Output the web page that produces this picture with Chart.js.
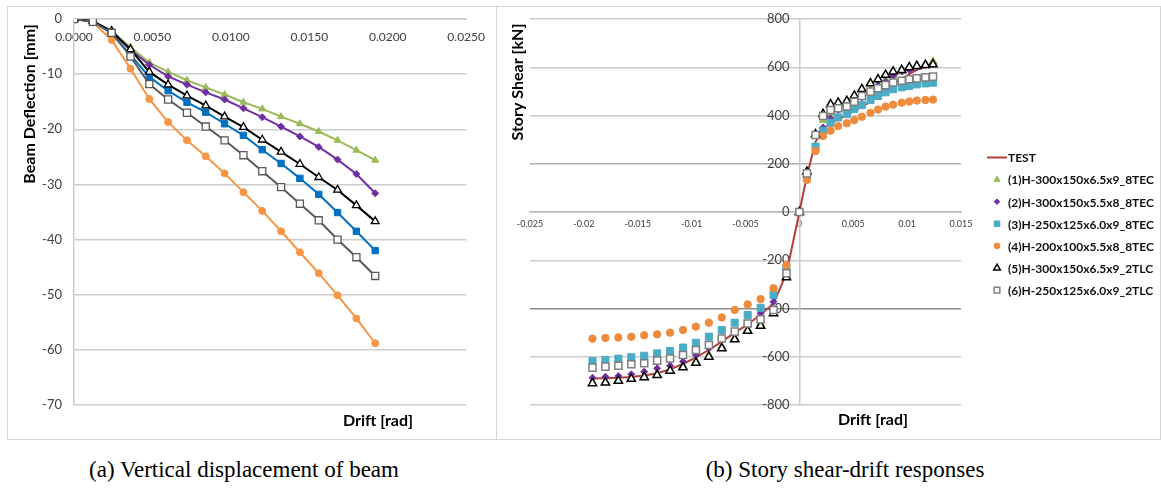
<!DOCTYPE html>
<html>
<head>
<meta charset="utf-8">
<script src="https://cdn.jsdelivr.net/npm/chart.js@4.4.0/dist/chart.umd.min.js"></script>
<style>
  body { margin: 0; background: #fff; width: 1161px; height: 489px; position: relative; overflow: hidden; }
  .panel { position: absolute; top: 6px; height: 432px; border: 1px solid #d4d4d4; }
  #panelA { left: 7px; width: 488px; }
  #panelB { left: 496px; width: 663px; }
  .panel canvas { display: block; }
  .caption { position: absolute; top: 457px; font-family: "Liberation Serif", serif; font-size: 23px; color: #000; white-space: nowrap; transform: translateX(-50%); }
</style>
</head>
<body>
<div class="panel" id="panelA"><canvas id="chartA" width="488" height="432"></canvas></div>
<div class="panel" id="panelB"><canvas id="chartB" width="663" height="432"></canvas></div>
<div class="caption" style="left:244px">(a) Vertical displacement of beam</div>
<div class="caption" style="left:845px">(b) Story shear-drift responses</div>

<script>
// (a) beam deflection vs drift
const driftA = [0, 0.0012, 0.0024, 0.0036, 0.0048, 0.0060, 0.0072, 0.0084, 0.0096,
                0.0108, 0.0120, 0.0132, 0.0144, 0.0156, 0.0168, 0.0180, 0.0192];
const defl1 = [0, -0.4, -2.3, -5.1, -7.9, -9.6, -11.1, -12.4, -13.7, -15.1, -16.3, -17.7, -19.0, -20.4, -22.0, -23.8, -25.6];
const defl2 = [0, -0.4, -2.3, -5.6, -8.3, -10.4, -11.9, -13.3, -14.6, -16.2, -17.8, -19.5, -21.3, -23.2, -25.5, -28.1, -31.6];
const defl3 = [0, -0.5, -2.6, -6.5, -10.5, -13.0, -15.1, -16.9, -19.0, -21.1, -23.7, -26.2, -28.9, -31.8, -35.1, -38.5, -42.0];
const defl4 = [0, -0.6, -3.8, -9.0, -14.5, -18.7, -22.0, -24.9, -28.0, -31.4, -34.8, -38.5, -42.3, -46.1, -50.1, -54.3, -58.8];
const defl5 = [0, -0.4, -2.2, -5.5, -9.6, -11.9, -13.9, -15.7, -17.7, -19.6, -21.9, -24.1, -26.3, -28.7, -31.0, -33.8, -36.7];
const defl6 = [0, -0.5, -2.5, -6.8, -11.8, -14.6, -17.0, -19.5, -22.0, -24.7, -27.6, -30.5, -33.5, -36.5, -40.0, -43.2, -46.6];

// (b) story shear vs drift
const driftB = [-0.0192, -0.0180, -0.0168, -0.0156, -0.0144, -0.0132, -0.0120, -0.0108,
                -0.0096, -0.0084, -0.0072, -0.0060, -0.0048, -0.0036, -0.0024, -0.0012, 0,
                0.0007, 0.0015, 0.0022, 0.0029, 0.0036, 0.0044, 0.0051, 0.0058, 0.0066,
                0.0073, 0.0080, 0.0087, 0.0095, 0.0102, 0.0109, 0.0117, 0.0124];
const shearTest = [-690, -689, -687, -684, -678, -668, -652, -630, -603, -572, -537, -500, -466, -425, -380, -255, 0,
                   150, 291, 343, 368, 384, 402, 419, 437, 457, 481, 506, 529, 551, 572, 589, 602, 616];
const shear1 = [-707, -704, -697, -689, -681, -672, -655, -640, -618, -594, -558, -522, -488, -462, -405, -258, 0,
                165, 320, 380, 410, 430, 445, 462, 482, 505, 528, 548, 568, 583, 596, 606, 615, 625];
const shear2 = [-687, -683, -680, -673, -662, -648, -637, -620, -593, -565, -528, -496, -462, -420, -372, -240, 0,
                160, 318, 350, 388, 423, 437, 450, 475, 495, 524, 540, 564, 582, 589, 602, 609, 613];
const shear3 = [-618, -613, -608, -602, -596, -586, -576, -562, -542, -517, -489, -459, -427, -397, -344, -234, 0,
                146, 271, 337, 370, 392, 406, 427, 443, 464, 481, 496, 509, 517, 522, 529, 533, 536];
const shear4 = [-525, -522, -520, -517, -511, -507, -500, -489, -475, -459, -437, -406, -383, -361, -316, -220, 0,
                133, 253, 315, 337, 356, 368, 381, 395, 411, 425, 437, 445, 453, 458, 462, 464, 466];
const shear5 = [-710, -707, -700, -692, -685, -676, -658, -644, -625, -600, -565, -528, -493, -472, -420, -271, 0,
                167, 322, 406, 446, 453, 460, 482, 509, 533, 550, 568, 582, 588, 600, 605, 609, 612];
const shear6 = [-645, -641, -637, -631, -627, -616, -607, -593, -572, -551, -524, -496, -462, -445, -406, -254, 0,
                160, 319, 398, 423, 430, 437, 457, 481, 499, 513, 526, 537, 544, 550, 554, 558, 561];

const seriesNames = ['(1)H-300x150x6.5x9_8TEC', '(2)H-300x150x5.5x8_8TEC', '(3)H-250x125x6.0x9_8TEC',
                     '(4)H-200x100x5.5x8_8TEC', '(5)H-300x150x6.5x9_2TLC', '(6)H-250x125x6.0x9_2TLC'];
const ticksA_x = [0, 0.005, 0.010, 0.015, 0.020, 0.025];
const ticksB_x = [-0.025, -0.020, -0.015, -0.010, -0.005, 0, 0.005, 0.010, 0.015];

const FONT = 'Lato, "Open Sans", sans-serif';
const GRID = '#cccccc';
const LABEL = '#404040';

// zip x and y arrays into {x, y} points
function pts(xs, ys) {
  return xs.map((x, i) => ({ x: x, y: ys[i] }));
}

// Draws axis titles and (optionally) a legend from the chart's datasets
const panelText = {
  id: 'panelText',
  afterDraw(chart, args, o) {
    const ctx = chart.ctx;
    ctx.save();
    ctx.fillStyle = '#000';
    ctx.font = 'bold 16px ' + FONT;
    ctx.textAlign = 'center';
    ctx.textBaseline = 'middle';
    ctx.fillText(o.xTitle, o.xAt[0], o.xAt[1]);
    ctx.save();
    ctx.translate(o.yAt[0], o.yAt[1]);
    ctx.rotate(-Math.PI / 2);
    ctx.fillText(o.yTitle, 0, 0);
    ctx.restore();

    if (o.legend) {
      const L = o.legend;
      ctx.font = 'bold 12px ' + FONT;
      ctx.textAlign = 'left';
      chart.data.datasets.forEach((ds, i) => {
        const y = L.y + i * L.step;
        if (ds.pointRadius === 0) {
          ctx.strokeStyle = ds.borderColor;
          ctx.lineWidth = 2;
          ctx.beginPath();
          ctx.moveTo(L.markX - 10, y);
          ctx.lineTo(L.textX - 1, y);
          ctx.stroke();
        } else {
          ctx.fillStyle = ds.backgroundColor;
          ctx.strokeStyle = ds.borderColor;
          ctx.lineWidth = ds.borderWidth;
          Chart.helpers.drawPoint(ctx, {
            pointStyle: ds.pointStyle, radius: ds.pointRadius * 0.8, rotation: 0, borderWidth: ds.borderWidth
          }, L.markX, y);
        }
        ctx.fillStyle = '#111';
        ctx.fillText(ds.label, L.textX, y + 1);
      });
    }
    ctx.restore();
  }
};

// ---------- chart (a) ----------
function lineSet(label, ys, color, style, radius, fill, order) {
  return {
    label: label, data: pts(driftA, ys), order: order,
    borderColor: color, borderWidth: 2,
    pointStyle: style, pointRadius: radius, pointBackgroundColor: fill || color,
    pointBorderColor: color, pointBorderWidth: fill ? 1.3 : 1
  };
}

new Chart(document.getElementById('chartA'), {
  type: 'line',
  data: {
    datasets: [
      lineSet(seriesNames[0], defl1, '#9BBB59', 'triangle', 4, null, 6),
      lineSet(seriesNames[1], defl2, '#7030A0', 'rectRot', 3.5, null, 5),
      lineSet(seriesNames[2], defl3, '#0070C0', 'rect', 4.5, null, 4),
      lineSet(seriesNames[3], defl4, '#F79646', 'circle', 3.5, null, 3),
      lineSet(seriesNames[4], defl5, '#000000', 'triangle', 4.5, '#ffffff', 2),
      lineSet(seriesNames[5], defl6, '#595959', 'rect', 5, '#ffffff', 1)
    ]
  },
  options: {
    responsive: false,
    animation: false,
    layout: { padding: { left: 16, right: 28, top: 12, bottom: 34 } },
    plugins: {
      legend: { display: false },
      tooltip: { enabled: false },
      panelText: { xTitle: 'Drift [rad]', xAt: [370, 414], yTitle: 'Beam Deflection [mm]', yAt: [22, 97] }
    },
    scales: {
      x: {
        type: 'linear', position: { y: 0 }, min: 0, max: 0.025,
        afterBuildTicks: s => { s.ticks = ticksA_x.map(v => ({ value: v })); },
        ticks: { callback: v => v.toFixed(4), font: { family: FONT, size: 12 }, color: LABEL, padding: 11, maxRotation: 0 },
        grid: { display: false, drawTicks: false },
        border: { display: true, color: GRID, width: 1.5 }
      },
      y: {
        type: 'linear', min: -70, max: 0,
        afterFit: s => { s.width = 50; },
        // gap between labels and axis comes from an invisible tick mark
        ticks: { stepSize: 10, font: { family: FONT, size: 13 }, color: LABEL, padding: 0 },
        grid: { color: GRID, lineWidth: 1.5, drawTicks: true, tickLength: 12, tickColor: 'rgba(0,0,0,0)' },
        border: { display: true, color: GRID, width: 1.5 }
      }
    }
  },
  plugins: [panelText]
});

// ---------- chart (b) ----------
function markSet(label, ys, color, style, radius, fill, order) {
  return {
    type: 'scatter', label: label, data: pts(driftB, ys), order: order,
    pointStyle: style, pointRadius: radius,
    backgroundColor: fill || color, borderColor: color, borderWidth: fill ? 1.5 : 1
  };
}

// y ticks run -800..800; some lines print darker in the original
const gridB = [GRID, GRID, '#8c8c8c', GRID, GRID, '#b0b0b0', GRID, GRID, GRID];

new Chart(document.getElementById('chartB'), {
  type: 'scatter',
  data: {
    datasets: [
      { type: 'line', label: 'TEST', data: pts(driftB, shearTest), order: 7,
        borderColor: '#B5403C', backgroundColor: '#B5403C', borderWidth: 2, pointRadius: 0, tension: 0 },
      markSet(seriesNames[0], shear1, '#9BBB59', 'triangle', 4.5, null, 6),
      markSet(seriesNames[1], shear2, '#7030A0', 'rectRot', 3.5, null, 5),
      markSet(seriesNames[2], shear3, '#4BACC6', 'rect', 5, null, 4),
      markSet(seriesNames[3], shear4, '#EE8B3D', 'circle', 3.7, null, 3),
      markSet(seriesNames[4], shear5, '#000000', 'triangle', 4.8, '#ffffff', 2),
      markSet(seriesNames[5], shear6, '#7F7F7F', 'rect', 5, '#ffffff', 1)
    ]
  },
  options: {
    responsive: false,
    animation: false,
    layout: { padding: { left: 33, right: 199, top: 12, bottom: 34 } },
    plugins: {
      legend: { display: false },
      tooltip: { enabled: false },
      panelText: {
        xTitle: 'Drift [rad]', xAt: [376, 413], yTitle: 'Story Shear [kN]', yAt: [21, 75],
        legend: { y: 150.5, step: 22.1, markX: 500, textX: 511 }
      }
    },
    scales: {
      x: {
        type: 'linear', position: { y: 0 }, min: -0.025, max: 0.015,
        afterBuildTicks: s => { s.ticks = ticksB_x.map(v => ({ value: v })); },
        ticks: { callback: v => String(parseFloat(v.toFixed(3))), font: { family: FONT, size: 9 }, color: LABEL, padding: 7, maxRotation: 0 },
        grid: { display: false, drawTicks: false },
        border: { display: true, color: '#b8b8b8', width: 1.5 }
      },
      // horizontal grid lines come from a label-less left axis
      yGrid: {
        type: 'linear', position: 'left', min: -800, max: 800,
        afterFit: s => { s.width = 0; },
        ticks: { stepSize: 200, display: false },
        grid: { color: gridB, lineWidth: 1.5, drawTicks: false },
        border: { display: false }
      },
      y: {
        type: 'linear', position: { x: 0 }, min: -800, max: 800,
        // labels sit left of the centre axis; an em space keeps them off the line
        ticks: { stepSize: 200, callback: v => v + '\u2003', font: { family: FONT, size: 13 }, color: LABEL, padding: 0 },
        grid: { display: false, drawTicks: false },
        border: { display: true, color: GRID, width: 1.5 }
      }
    }
  },
  plugins: [panelText]
});
</script>
</body>
</html>
